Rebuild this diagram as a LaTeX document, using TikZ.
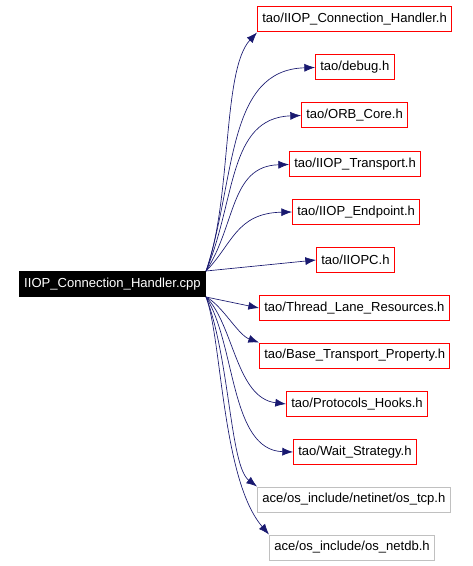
\documentclass[tikz,border=0pt]{standalone}
\usepackage{fontspec}
\setmainfont{Liberation Sans}
\usetikzlibrary{arrows.meta,positioning}

\definecolor{edgeblue}{HTML}{191970}
\definecolor{boxgray}{HTML}{C0C0C0}

\begin{document}
\begin{tikzpicture}[
    x=0.75pt, y=-0.75pt,
    file/.style={draw=red, fill=white, line width=0.75pt,
      minimum height=18.75pt, inner xsep=3.6pt, inner ysep=0pt,
      anchor=west, font=\fontsize{9.8}{12}\selectfont},
    extfile/.style={file, draw=boxgray},
    srcfile/.style={file, draw=black, fill=black, text=white, anchor=center},
    dep/.style={-{Latex[length=8pt, width=6pt]}, draw=edgeblue,
      line width=0.5pt}
  ]
    \useasboundingbox (0,0) rectangle (472,566);

    \node[srcfile] (handler) at (112.5,284) {IIOP\_Connection\_Handler.cpp};

    \node[file] (handlerh) at (257,19.5) {tao/IIOP\_Connection\_Handler.h};
    \node[file] (debug) at (315,67.5) {tao/debug.h};
    \node[file] (orbcore) at (301,115.5) {tao/ORB\_Core.h};
    \node[file] (transport) at (289,164.5) {tao/IIOP\_Transport.h};
    \node[file] (endpoint) at (292,212) {tao/IIOP\_Endpoint.h};
    \node[file] (iiopc) at (316,260) {tao/IIOPC.h};
    \node[file] (lanes) at (259,308) {tao/Thread\_Lane\_Resources.h};
    \node[file] (baseprop) at (259,355.5) {tao/Base\_Transport\_Property.h};
    \node[file] (hooks) at (286,404) {tao/Protocols\_Hooks.h};
    \node[file] (waitstr) at (293,452) {tao/Wait\_Strategy.h};
    \node[extfile] (ostcp) at (257,499.5) {ace/os\_include/netinet/os\_tcp.h};
    \node[extfile] (osnetdb) at (269,547.5) {ace/os\_include/os\_netdb.h};

    % includes above the source
    \draw[dep] (handler.north east) .. controls (232,200) and (222,70) .. (handlerh.south west);
    \draw[dep] (handler.north east) .. controls (236,180) and (226,70) .. (debug.west);
    \draw[dep] (handler.north east) .. controls (236,200) and (228,118) .. (orbcore.west);
    \draw[dep] (handler.north east) .. controls (236,225) and (230,166) .. (transport.west);
    \draw[dep] (handler.north east) .. controls (232,245) and (236,213) .. (endpoint.west);
    \draw[dep] (handler.north east) -- (iiopc.west);
    % includes below the source
    \draw[dep] (handler.south east) -- (lanes.west);
    \draw[dep] (handler.south east) .. controls (222,305) and (238,335) .. (baseprop.north west);
    \draw[dep] (handler.south east) .. controls (234,325) and (236,398) .. (hooks.west);
    \draw[dep] (handler.south east) .. controls (236,345) and (230,450) .. (waitstr.west);
    \draw[dep] (handler.south east) .. controls (230,360) and (230,466) .. (ostcp.north west);
    \draw[dep] (handler.south east) .. controls (222,340) and (222,480) .. (osnetdb.north west);
  \end{tikzpicture}
\end{document}
